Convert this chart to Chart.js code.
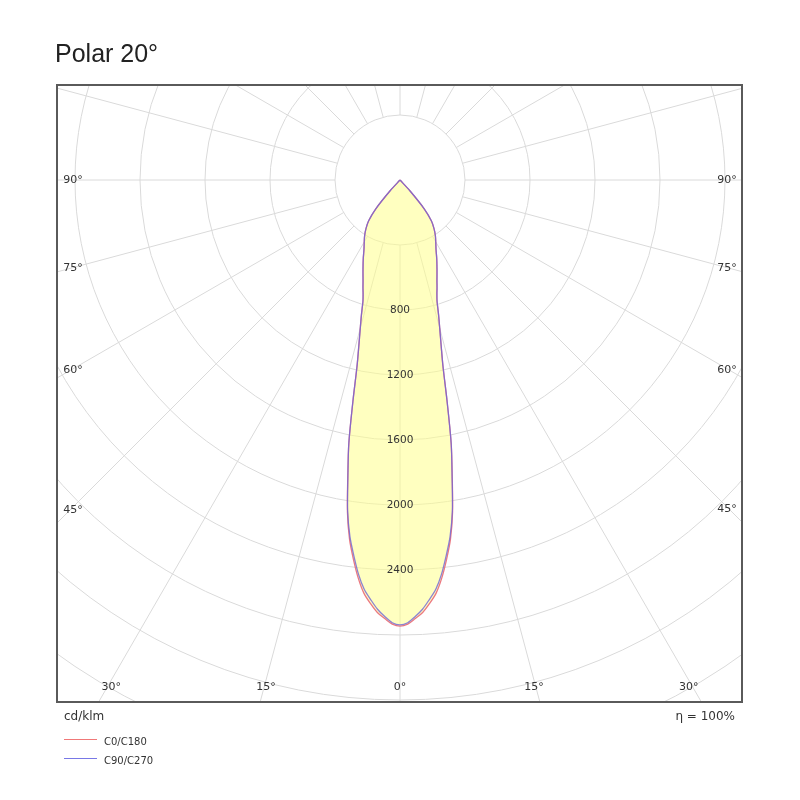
<!DOCTYPE html>
<html><head><meta charset="utf-8">
<script src="https://cdn.jsdelivr.net/npm/chart.js@4.4.1/dist/chart.umd.min.js"></script>
<style>
html,body{margin:0;padding:0;background:#fff;}
#wrap{position:relative;width:800px;height:800px;}
canvas{position:absolute;left:0;top:0;}
.t{position:absolute;white-space:nowrap;color:#222;}
.lg{position:absolute;height:1px;width:33px;left:64px;}
</style></head><body>
<div id="wrap">
<canvas id="c" width="800" height="800"></canvas>
<div class="t" style="left:55px;top:41px;font-family:'Liberation Sans',Arial,sans-serif;font-size:25px;line-height:25px;">Polar 20°</div>
<div class="t" style="left:64px;top:710px;font-family:'DejaVu Sans',sans-serif;font-size:12px;line-height:12px;color:#333;">cd/klm</div>
<div class="t" style="right:65px;top:710px;font-family:'DejaVu Sans',sans-serif;font-size:12px;line-height:12px;color:#333;">η = 100%</div>
<div class="lg" style="top:739px;background:rgb(240,120,120);"></div>
<div class="t" style="left:104px;top:736px;font-family:'DejaVu Sans',sans-serif;font-size:10px;line-height:12px;color:#333;">C0/C180</div>
<div class="lg" style="top:758px;background:rgb(120,120,230);"></div>
<div class="t" style="left:104px;top:755px;font-family:'DejaVu Sans',sans-serif;font-size:10px;line-height:12px;color:#333;">C90/C270</div>
</div>
<script>
// ---- data ----
const gammaDeg = [0,1,2,3,4,5,6,7,8,9,10,11,12,13,14,15,16,17,18,19,20,22.5,25,27.5,30,32.5,35,37.5,40,42.5,45,60,75,90];
const intensityC0 = [2745,2733,2700,2665,2612,2552,2462,2352,2232,2068,1850,1650,1395,1175,1045,945,860,780,735,700,665,595,535,480,440,405,365,318,235,90,0,0,0,0];
const intensityC90 = [2738,2725,2688,2645,2588,2528,2440,2330,2215,2060,1845,1650,1395,1175,1045,945,860,780,735,700,665,595,535,480,440,405,365,318,235,90,0,0,0,0];
const ringValues = [400,800,1200,1600,2000,2400,2800,3200,3600,4000];
const spokeStep = 15;
const radialTicks = [800,1200,1600,2000,2400];
const angleTicks = [0,15,30,45,60,75,90];

// ---- geometry of the plot frame ----
const PX_PER_CD = 0.1625;
const AREA = {left:57, right:742, top:85, bottom:702};
const CENTER = {x:400, y:180};

function toXY(g, r, side){
  const rad = g*Math.PI/180;
  return {x: side*r*Math.sin(rad), y: -r*Math.cos(rad)};
}
function closedCurve(values){
  const pts = [];
  for (let i = gammaDeg.length-1; i >= 0; i--) pts.push(toXY(gammaDeg[i], values[i], -1));
  for (let i = 1; i < gammaDeg.length; i++) pts.push(toXY(gammaDeg[i], values[i], 1));
  return pts;
}

const gridPlugin = {
  id:'polarGrid',
  beforeDatasetsDraw(chart){
    const {ctx, chartArea:a, scales:{x,y}} = chart;
    const cx = x.getPixelForValue(0), cy = y.getPixelForValue(0);
    const k = (x.getPixelForValue(1000)-cx)/1000;
    ctx.save();
    ctx.beginPath(); ctx.rect(a.left,a.top,a.right-a.left,a.bottom-a.top); ctx.clip();
    ctx.strokeStyle = '#dadada'; ctx.lineWidth = 1;
    ringValues.forEach(r => { ctx.beginPath(); ctx.arc(cx,cy,r*k,0,Math.PI*2); ctx.stroke(); });
    const r0 = ringValues[0]*k, R = 6000*k;
    for (let g = 0; g < 360; g += spokeStep){
      const rad = g*Math.PI/180, sx = Math.sin(rad), sy = Math.cos(rad);
      ctx.beginPath(); ctx.moveTo(cx+sx*r0, cy+sy*r0); ctx.lineTo(cx+sx*R, cy+sy*R); ctx.stroke();
    }
    ctx.restore();
  },
  afterDatasetsDraw(chart){
    const {ctx, chartArea:a, scales:{x,y}} = chart;
    const cx = x.getPixelForValue(0), cy = y.getPixelForValue(0);
    const k = (x.getPixelForValue(1000)-cx)/1000;
    ctx.save();
    ctx.fillStyle = '#333';
    ctx.textAlign = 'center'; ctx.textBaseline = 'middle';
    ctx.font = "10.5px 'DejaVu Sans'";
    radialTicks.forEach(r => ctx.fillText(String(r), cx, cy + r*k));
    ctx.font = "11px 'DejaVu Sans'";
    angleTicks.forEach(deg => {
      const sides = deg === 0 ? [1] : [-1, 1];
      sides.forEach(s => {
        const rad = deg*Math.PI/180;
        const dx = s*Math.sin(rad), dy = Math.cos(rad);
        const sideX = s < 0 ? a.left+13 : a.right-13;
        const bottomY = a.bottom-22;
        const tSide = Math.abs(dx) > 1e-9 ? (sideX-cx)/dx : Infinity;
        const tBottom = dy > 1e-9 ? (bottomY-cy)/dy : Infinity;
        let px, py;
        if (tSide < tBottom){ px = s < 0 ? a.left+16 : a.right-15; py = cy + dy*tSide; }
        else { px = cx + dx*tBottom; py = a.bottom-15; }
        ctx.fillText(deg+'°', px, py);
      });
    });
    ctx.restore();
  },
  afterDraw(chart){
    const {ctx, chartArea:a} = chart;
    ctx.save(); ctx.strokeStyle = '#5a5a5a'; ctx.lineWidth = 2;
    ctx.strokeRect(a.left, a.top, a.right-a.left, a.bottom-a.top);
    ctx.restore();
  }
};

new Chart(document.getElementById('c'), {
  type:'scatter',
  data:{datasets:[
    {label:'C90/C270', data:closedCurve(intensityC90), showLine:true, fill:false,
     borderColor:'rgba(110,100,215,0.8)', borderWidth:1.3, pointRadius:0, tension:0.3},
    {label:'C0/C180', data:closedCurve(intensityC0), showLine:true, fill:'shape',
     backgroundColor:'rgba(255,255,140,0.55)',
     borderColor:'rgb(235,120,130)', borderWidth:1.3, pointRadius:0, tension:0.3}
  ]},
  options:{
    responsive:false, animation:false, events:[],
    layout:{padding:{left:AREA.left, right:800-AREA.right, top:AREA.top, bottom:800-AREA.bottom}},
    scales:{
      x:{type:'linear', display:false, min:(AREA.left-CENTER.x)/PX_PER_CD, max:(AREA.right-CENTER.x)/PX_PER_CD},
      y:{type:'linear', display:false, min:-(AREA.bottom-CENTER.y)/PX_PER_CD, max:(CENTER.y-AREA.top)/PX_PER_CD}
    },
    plugins:{legend:{display:false}, tooltip:{enabled:false}, title:{display:false}}
  },
  plugins:[gridPlugin]
});
</script>
</body></html>
